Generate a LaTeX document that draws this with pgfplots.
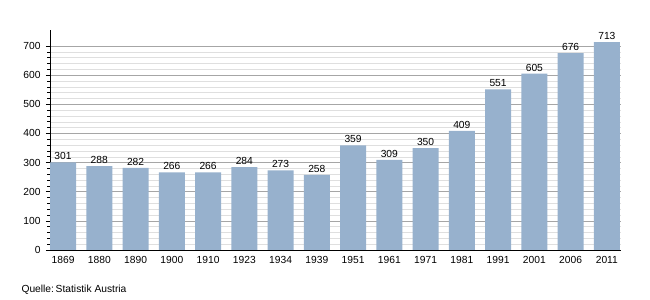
\documentclass[border=0pt]{standalone}
\usepackage{fontspec}
\setmainfont{Liberation Sans}
\usepackage{pgfplots}
\pgfplotsset{compat=1.18}
\definecolor{barc}{HTML}{97B1CD}
\begin{document}
\begin{tikzpicture}
\path[use as bounding box] (0,0) rectangle (650bp,300bp);
\begin{axis}[
  at={(50bp,50bp)}, anchor=south west,
  scale only axis, width=571bp, height=220bp,
  xmin=-0.36, xmax=15.39, ymin=0, ymax=755,
  axis x line*=bottom, axis y line*=left,
  axis line style={black, line width=0.8pt},
  ytick={0,100,...,700}, minor y tick num=4,
  ymajorgrids, yminorgrids,
  major grid style={gray!70, line width=0.5pt},
  minor grid style={gray!25, line width=0.5pt},
  y tick style={black, line width=0.6pt},
  major tick length=4bp, minor tick length=2.5bp,
  tick align=outside,
  xtick=data, xtick style={draw=none},
  xticklabels={1869,1880,1890,1900,1910,1923,1934,1939,1951,1961,1971,1981,1991,2001,2006,2011},
  ticklabel style={font=\fontsize{10.3}{11}\selectfont},
  /pgf/number format/assume math mode=true,
  yticklabel style={xshift=-2bp},
  xticklabel style={yshift=1bp},
  ybar, bar width=0.72, 
  nodes near coords,
  every node near coord/.append style={font=\fontsize{10.3}{11}\selectfont, black, yshift=-1bp},
  clip=false,
]
\addplot[fill=barc, draw=none] coordinates {
(0,301) (1,288) (2,282) (3,266) (4,266) (5,284) (6,273) (7,258)
(8,359) (9,309) (10,350) (11,409) (12,551) (13,605) (14,676) (15,713)};
\end{axis}
\node[anchor=west, font=\fontsize{10.3}{11}\selectfont] at (18bp,10bp) {Quelle:\,Statistik Austria};
\end{tikzpicture}
\end{document}
